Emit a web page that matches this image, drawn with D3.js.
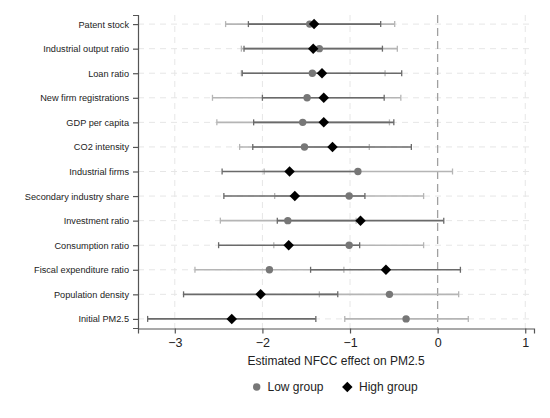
<!DOCTYPE html>
<meta charset="UTF-8">
<html>
<head>
<script src="https://d3js.org/d3.v7.min.js"></script>
<style>
  body { margin: 0; background: #fff; }
  svg { font-family: "Liberation Sans", Arial, sans-serif; }
</style>
</head>
<body>
<div id="chart"></div>
<script>
// row labels, top to bottom
var categories = ["Patent stock", "Industrial output ratio", "Loan ratio", "New firm registrations",
  "GDP per capita", "CO2 intensity", "Industrial firms", "Secondary industry share",
  "Investment ratio", "Consumption ratio", "Fiscal expenditure ratio", "Population density", "Initial PM2.5"];

// Low group: estimate and 95% CI
var lowEst   = [-1.46, -1.35, -1.43, -1.49, -1.54, -1.52, -0.91, -1.01, -1.71, -1.01, -1.92, -0.55, -0.36];
var lowLo    = [-2.42, -2.24, -2.24, -2.57, -2.52, -2.26, -1.98, -1.86, -2.48, -1.87, -2.77, -1.35, -1.06];
var lowHi    = [-0.49, -0.46, -0.60, -0.42, -0.55, -0.78,  0.17, -0.16, -0.93, -0.16, -1.07,  0.24,  0.35];

// High group
var highEst  = [-1.41, -1.42, -1.32, -1.30, -1.30, -1.20, -1.69, -1.63, -0.88, -1.70, -0.59, -2.02, -2.35];
var highLo   = [-2.16, -2.21, -2.23, -2.00, -2.10, -2.11, -2.46, -2.44, -1.83, -2.50, -1.45, -2.90, -3.31];
var highHi   = [-0.65, -0.63, -0.41, -0.61, -0.50, -0.30, -0.92, -0.83,  0.07, -0.89,  0.26, -1.14, -1.39];

var xTicks = [-3, -2, -1, 0, 1];

var width = 550, height = 418;
var margin = {left: 138, right: 16, top: 15, bottom: 90};

var svg = d3.select("#chart").append("svg")
    .attr("width", width).attr("height", height);

var x = d3.scaleLinear().domain([-3.42, 1.1]).range([margin.left, width - margin.right]);
var y = d3.scalePoint().domain(categories).range([margin.top, height - margin.bottom]).padding(0.37);

// grid
var grid = svg.append("g");
grid.selectAll("line.gx").data(xTicks.filter(function(d) { return d != 0; })).enter()
  .append("line")
    .attr("x1", function(d) { return x(d); }).attr("x2", function(d) { return x(d); })
    .attr("y1", margin.top).attr("y2", height - margin.bottom)
    .attr("stroke", "#e6e6e6").attr("stroke-width", 1).attr("stroke-dasharray", "6,5");
grid.selectAll("line.gy").data(categories).enter()
  .append("line")
    .attr("x1", margin.left).attr("x2", width - margin.right)
    .attr("y1", function(d) { return y(d); }).attr("y2", function(d) { return y(d); })
    .attr("stroke", "#e6e6e6").attr("stroke-width", 1).attr("stroke-dasharray", "6,5");

// zero line
svg.append("line")
    .attr("x1", x(0)).attr("x2", x(0))
    .attr("y1", margin.top).attr("y2", height - margin.bottom)
    .attr("stroke", "#a0a0a0").attr("stroke-width", 1.3).attr("stroke-dasharray", "8,5");

function drawCI(lo, hi, color) {
  var g = svg.append("g");
  categories.forEach(function(c, i) {
    var yy = y(c);
    g.append("line").attr("x1", x(lo[i])).attr("x2", x(hi[i]))
      .attr("y1", yy).attr("y2", yy).attr("stroke", color).attr("stroke-width", 1.6);
    [lo[i], hi[i]].forEach(function(v) {
      g.append("line").attr("x1", x(v)).attr("x2", x(v))
        .attr("y1", yy - 3).attr("y2", yy + 3).attr("stroke", color).attr("stroke-width", 1.3);
    });
  });
}

drawCI(lowLo, lowHi, "#b5b5b5");
drawCI(highLo, highHi, "#6a6a6a");

svg.append("g").selectAll("circle").data(lowEst).enter()
  .append("circle")
    .attr("cx", function(d) { return x(d); })
    .attr("cy", function(d, i) { return y(categories[i]); })
    .attr("r", 3.7).attr("fill", "#777");

var diamond = d3.symbol().type(d3.symbolDiamond2).size(70);
svg.append("g").selectAll("path").data(highEst).enter()
  .append("path")
    .attr("d", diamond)
    .attr("transform", function(d, i) { return "translate(" + x(d) + "," + y(categories[i]) + ")"; })
    .attr("fill", "#000");

// axes
var yAxis = svg.append("g").attr("transform", "translate(" + margin.left + ",0)")
    .call(d3.axisLeft(y).tickSizeOuter(0).tickSize(5).tickPadding(4));
yAxis.selectAll("text").attr("font-size", "9.2px").attr("fill", "#222");
yAxis.selectAll("line, path").attr("stroke", "#555").attr("stroke-width", 1.2);

var xAxis = svg.append("g").attr("transform", "translate(0," + (height - margin.bottom + 0.5) + ")")
    .call(d3.axisBottom(x).tickValues(xTicks).tickSizeOuter(0).tickSize(5).tickPadding(5)
      .tickFormat(function(d) { return d < 0 ? "\u2212" + Math.abs(d) : d; }));
xAxis.selectAll("text").attr("font-size", "12.5px").attr("fill", "#222");
xAxis.selectAll("line, path").attr("stroke", "#555").attr("stroke-width", 1.2);

svg.append("text")
    .attr("x", (margin.left + width - margin.right) / 2).attr("y", 365)
    .attr("text-anchor", "middle").attr("font-size", "12px").attr("fill", "#222")
    .text("Estimated NFCC effect on PM2.5");

// legend
var legend = svg.append("g").attr("transform", "translate(0,387)");
legend.append("circle").attr("cx", 256.7).attr("cy", 0).attr("r", 3.7).attr("fill", "#777");
legend.append("text").attr("x", 267.5).attr("y", 4.3).attr("font-size", "12px").attr("fill", "#222").text("Low group");
legend.append("path").attr("d", diamond).attr("transform", "translate(347.3,0)").attr("fill", "#000");
legend.append("text").attr("x", 359).attr("y", 4.3).attr("font-size", "12px").attr("fill", "#222").text("High group");
</script>
</body>
</html>
